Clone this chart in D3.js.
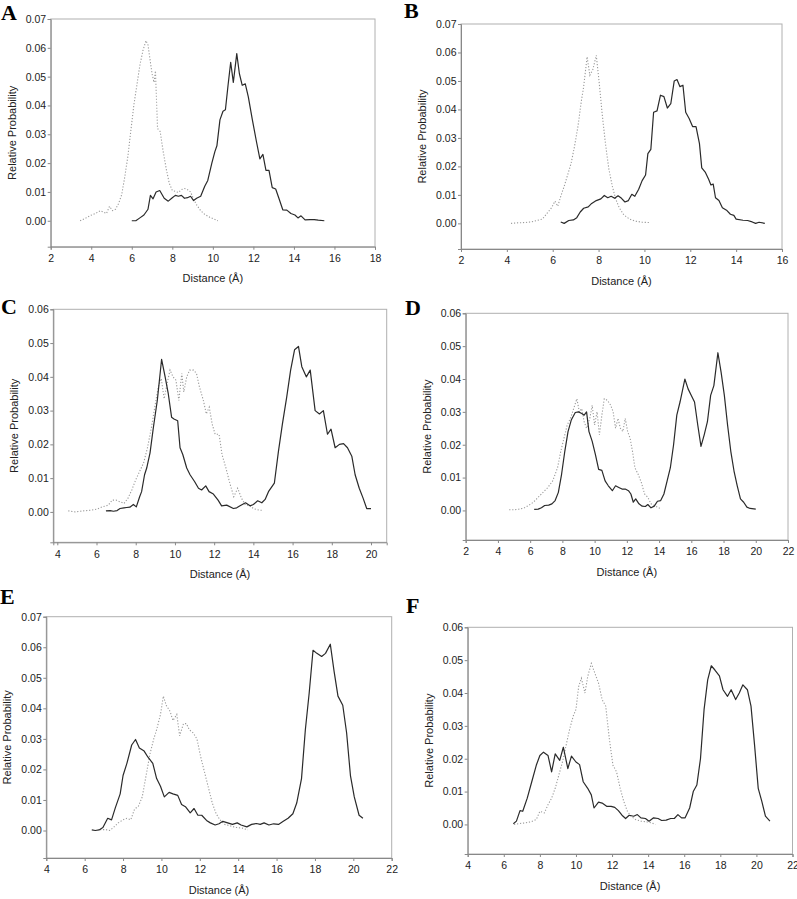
<!DOCTYPE html>
<html>
<head>
<meta charset="utf-8">
<script src="https://cdn.jsdelivr.net/npm/d3@7"></script>
<style>
  html, body { margin: 0; padding: 0; background: #fff; }
  svg { display: block; }
</style>
</head>
<body>
<svg id="chart" width="797" height="899"></svg>
<script>
// ---------------- DATA ----------------
const panelLetters = ["A", "B", "C", "D", "E", "F"];
const xTitle = "Distance (Å)";
const yTitle = "Relative Probability";

const xTicksA = [2, 4, 6, 8, 10, 12, 14, 16, 18];
const xTicksB = [2, 4, 6, 8, 10, 12, 14, 16];
const xTicksC = [4, 6, 8, 10, 12, 14, 16, 18, 20];
const xTicksD = [2, 4, 6, 8, 10, 12, 14, 16, 18, 20, 22];
const xTicksE = [4, 6, 8, 10, 12, 14, 16, 18, 20, 22];
const xTicksF = [4, 6, 8, 10, 12, 14, 16, 18, 20, 22];
const yTicks7 = [0, 0.01, 0.02, 0.03, 0.04, 0.05, 0.06, 0.07];
const yTicks6 = [0, 0.01, 0.02, 0.03, 0.04, 0.05, 0.06];

const A_solid = [[6.0,0],[6.2,0.0],[6.4,0.001],[6.6,0.002],[6.8,0.004],[6.92,0.0088],[7.05,0.0076],[7.2,0.0100],[7.38,0.0105],[7.6,0.0078],[7.8,0.0068],[8.0,0.008],[8.15,0.0088],[8.3,0.0085],[8.45,0.0088],[8.6,0.0078],[8.75,0.008],[8.9,0.0085],[9.05,0.007],[9.2,0.0078],[9.4,0.0085],[9.6,0.012],[9.75,0.014],[9.95,0.020],[10.1,0.024],[10.2,0.026],[10.35,0.035],[10.5,0.038],[10.62,0.0385],[10.75,0.047],[10.88,0.055],[11.01,0.048],[11.18,0.058],[11.31,0.051],[11.45,0.047],[11.6,0.0475],[11.75,0.043],[11.95,0.035],[12.15,0.0275],[12.32,0.0215],[12.47,0.023],[12.62,0.0175],[12.77,0.0175],[12.93,0.0115],[13.1,0.011],[13.25,0.008],[13.45,0.0038],[13.65,0.0037],[13.85,0.0025],[14.05,0.002],[14.2,0.001],[14.35,0.0017],[14.55,0.0003],[14.8,0.0004],[15.0,0.0004],[15.2,0.0002],[15.5,0.0]];
const A_dotted = [[3.45,0.0],[3.7,0.0008],[3.95,0.0018],[4.2,0.0025],[4.45,0.0035],[4.6,0.003],[4.75,0.0025],[4.9,0.005],[5.05,0.0035],[5.2,0.004],[5.35,0.006],[5.5,0.009],[5.65,0.015],[5.8,0.022],[5.95,0.031],[6.1,0.040],[6.25,0.047],[6.4,0.054],[6.55,0.059],[6.7,0.0625],[6.8,0.061],[6.9,0.056],[7.0,0.051],[7.1,0.048],[7.17,0.052],[7.27,0.032],[7.4,0.031],[7.55,0.024],[7.7,0.018],[7.85,0.013],[8.0,0.0105],[8.15,0.0102],[8.3,0.0098],[8.45,0.0108],[8.6,0.0112],[8.75,0.0108],[8.9,0.0100],[9.05,0.0075],[9.2,0.0055],[9.4,0.0035],[9.6,0.0022],[9.85,0.0012],[10.05,0.0006],[10.25,0.0]];

const B_solid = [[6.35,0.0005],[6.5,0.0],[6.7,0.001],[6.9,0.0012],[7.05,0.002],[7.2,0.004],[7.35,0.0053],[7.55,0.0058],[7.7,0.007],[7.9,0.008],[8.1,0.0086],[8.25,0.0098],[8.4,0.009],[8.55,0.0095],[8.7,0.0088],[8.85,0.0097],[9.0,0.0088],[9.15,0.0075],[9.3,0.008],[9.45,0.0102],[9.58,0.0095],[9.75,0.012],[9.9,0.015],[10.05,0.017],[10.15,0.0245],[10.28,0.026],[10.4,0.039],[10.55,0.0395],[10.7,0.045],[10.85,0.0445],[11.0,0.0405],[11.15,0.042],[11.3,0.050],[11.42,0.0505],[11.55,0.048],[11.68,0.0485],[11.8,0.039],[11.95,0.0368],[12.1,0.034],[12.25,0.034],[12.4,0.028],[12.5,0.0195],[12.65,0.018],[12.8,0.0155],[12.9,0.0135],[13.0,0.0138],[13.1,0.009],[13.25,0.008],[13.4,0.0055],[13.6,0.0045],[13.75,0.0032],[13.9,0.0028],[14.0,0.0015],[14.3,0.0011],[14.5,0.001],[14.7,0.0005],[14.85,0.0],[15.0,0.0004],[15.25,0.0]];
const B_dotted = [[4.18,0.0],[4.5,0.0002],[4.8,0.0003],[5.05,0.0005],[5.3,0.001],[5.55,0.0015],[5.75,0.0035],[5.95,0.0055],[6.1,0.0078],[6.22,0.006],[6.35,0.0095],[6.5,0.013],[6.65,0.017],[6.8,0.021],[6.95,0.027],[7.1,0.034],[7.25,0.043],[7.35,0.048],[7.5,0.0585],[7.62,0.052],[7.75,0.054],[7.9,0.059],[8.02,0.05],[8.15,0.039],[8.3,0.028],[8.45,0.019],[8.6,0.013],[8.75,0.0085],[8.9,0.0055],[9.1,0.003],[9.35,0.0015],[9.6,0.0008],[9.9,0.0004],[10.2,0.0003]];

const C_solid = [[6.48,0.0003],[6.7,0.0004],[6.86,0.0002],[7.05,0.0004],[7.2,0.001],[7.4,0.0012],[7.54,0.0013],[7.7,0.0014],[7.88,0.0022],[8.03,0.0015],[8.2,0.0045],[8.3,0.006],[8.45,0.011],[8.56,0.013],[8.73,0.0175],[8.9,0.025],[9.1,0.033],[9.32,0.0452],[9.5,0.040],[9.66,0.035],[9.83,0.028],[9.95,0.0275],[10.14,0.027],[10.26,0.019],[10.4,0.017],[10.6,0.013],[10.77,0.011],[11.0,0.009],[11.2,0.007],[11.36,0.0065],[11.57,0.0077],[11.74,0.006],[11.96,0.0053],[12.2,0.0035],[12.38,0.0018],[12.64,0.002],[12.98,0.001],[13.15,0.0012],[13.32,0.0018],[13.6,0.0027],[13.83,0.0018],[14.0,0.0022],[14.22,0.0033],[14.43,0.0027],[14.6,0.0037],[14.77,0.006],[15.07,0.0085],[15.28,0.018],[15.48,0.026],[15.7,0.034],[15.9,0.042],[16.1,0.048],[16.3,0.049],[16.47,0.043],[16.7,0.040],[16.9,0.042],[17.15,0.030],[17.37,0.029],[17.57,0.030],[17.78,0.023],[17.96,0.0245],[18.17,0.019],[18.39,0.020],[18.6,0.0202],[18.8,0.019],[19.02,0.0165],[19.19,0.011],[19.4,0.007],[19.6,0.004],[19.78,0.001],[20.0,0.001]];
const C_dotted = [[4.56,0.0003],[4.9,0.0],[5.3,0.0003],[5.7,0.0005],[6.0,0.0008],[6.3,0.0015],[6.6,0.002],[6.8,0.0035],[7.0,0.0035],[7.2,0.003],[7.4,0.0025],[7.6,0.004],[7.8,0.0065],[8.0,0.0095],[8.2,0.012],[8.4,0.0145],[8.6,0.019],[8.8,0.025],[9.0,0.032],[9.15,0.037],[9.3,0.0395],[9.45,0.0335],[9.6,0.038],[9.75,0.042],[9.9,0.040],[10.05,0.039],[10.2,0.033],[10.35,0.041],[10.45,0.0355],[10.6,0.040],[10.75,0.042],[10.95,0.042],[11.1,0.041],[11.25,0.037],[11.45,0.033],[11.6,0.029],[11.75,0.031],[11.9,0.026],[12.05,0.023],[12.25,0.023],[12.4,0.017],[12.6,0.013],[12.8,0.0085],[13.0,0.0045],[13.2,0.007],[13.4,0.004],[13.6,0.002],[13.8,0.002],[14.0,0.001],[14.3,0.0005],[14.5,0.0005]];

const D_solid = [[6.25,0.0003],[6.5,0.0004],[6.7,0.0008],[6.9,0.0015],[7.15,0.0016],[7.35,0.002],[7.55,0.003],[7.75,0.0055],[7.95,0.011],[8.15,0.018],[8.35,0.024],[8.55,0.0275],[8.8,0.0298],[9.0,0.030],[9.2,0.0295],[9.35,0.029],[9.5,0.030],[9.65,0.024],[9.85,0.021],[10.05,0.017],[10.25,0.0125],[10.45,0.0122],[10.65,0.009],[10.85,0.0075],[11.1,0.006],[11.3,0.0075],[11.5,0.007],[11.7,0.0065],[11.9,0.0065],[12.1,0.006],[12.25,0.005],[12.4,0.0025],[12.55,0.0035],[12.75,0.002],[12.95,0.0013],[13.15,0.0012],[13.3,0.0018],[13.5,0.0008],[13.7,0.0013],[13.9,0.0028],[14.1,0.003],[14.3,0.005],[14.5,0.009],[14.7,0.013],[14.9,0.020],[15.1,0.029],[15.3,0.033],[15.6,0.040],[15.8,0.037],[16.0,0.035],[16.2,0.033],[16.4,0.026],[16.6,0.0195],[16.8,0.023],[17.0,0.027],[17.2,0.035],[17.4,0.038],[17.65,0.048],[17.85,0.042],[18.05,0.035],[18.25,0.026],[18.45,0.018],[18.65,0.012],[18.85,0.0075],[19.05,0.0035],[19.25,0.0025],[19.45,0.001],[19.65,0.0006],[20.0,0.0004]];
const D_dotted = [[4.7,0.0002],[5.0,0.0002],[5.3,0.0004],[5.6,0.0007],[5.9,0.0015],[6.2,0.0025],[6.5,0.004],[6.8,0.0055],[7.1,0.007],[7.4,0.009],[7.7,0.013],[7.9,0.018],[8.1,0.022],[8.3,0.026],[8.5,0.028],[8.7,0.031],[8.9,0.034],[9.05,0.030],[9.2,0.031],[9.35,0.027],[9.5,0.025],[9.7,0.028],[9.85,0.032],[10.0,0.026],[10.15,0.030],[10.3,0.023],[10.45,0.029],[10.6,0.034],[10.8,0.0335],[11.0,0.032],[11.15,0.030],[11.3,0.025],[11.45,0.028],[11.6,0.025],[11.75,0.024],[11.9,0.028],[12.05,0.024],[12.2,0.022],[12.35,0.018],[12.5,0.013],[12.7,0.011],[12.9,0.0085],[13.1,0.005],[13.3,0.004],[13.5,0.002],[13.7,0.0015],[13.9,0.001],[14.1,0.0005]];

const E_solid = [[6.37,0.0002],[6.55,0.0],[6.75,0.0002],[6.95,0.001],[7.2,0.004],[7.4,0.0035],[7.6,0.0075],[7.85,0.012],[8.0,0.018],[8.2,0.022],[8.45,0.028],[8.65,0.0298],[8.85,0.027],[9.1,0.026],[9.3,0.024],[9.55,0.022],[9.75,0.017],[9.95,0.0145],[10.15,0.011],[10.4,0.0125],[10.6,0.012],[10.85,0.0115],[11.05,0.0085],[11.25,0.0078],[11.5,0.0058],[11.7,0.0072],[11.9,0.005],[12.1,0.005],[12.35,0.0033],[12.55,0.0025],[12.8,0.0018],[13.0,0.0022],[13.2,0.003],[13.45,0.0025],[13.7,0.002],[13.95,0.0025],[14.15,0.0018],[14.45,0.0012],[14.7,0.002],[14.95,0.0023],[15.15,0.002],[15.35,0.0025],[15.6,0.0018],[15.85,0.0022],[16.1,0.002],[16.35,0.003],[16.6,0.004],[16.85,0.0055],[17.05,0.009],[17.3,0.017],[17.5,0.033],[17.7,0.045],[17.9,0.059],[18.1,0.058],[18.35,0.057],[18.55,0.058],[18.8,0.061],[19.0,0.052],[19.2,0.044],[19.45,0.041],[19.65,0.032],[19.85,0.018],[20.05,0.011],[20.3,0.005],[20.5,0.004]];
const E_dotted = [[6.8,0.0003],[7.1,0.0003],[7.3,0.0],[7.5,0.001],[7.75,0.0025],[8.0,0.0035],[8.2,0.004],[8.4,0.0035],[8.6,0.007],[8.8,0.008],[9.0,0.011],[9.2,0.018],[9.4,0.025],[9.6,0.030],[9.75,0.033],[9.95,0.038],[10.1,0.044],[10.25,0.041],[10.45,0.039],[10.6,0.036],[10.8,0.038],[10.95,0.031],[11.15,0.035],[11.3,0.035],[11.45,0.033],[11.65,0.032],[11.85,0.030],[12.05,0.024],[12.25,0.019],[12.45,0.014],[12.65,0.009],[12.85,0.0055],[13.05,0.0035],[13.3,0.002],[13.6,0.0015],[13.9,0.001],[14.2,0.0008],[14.5,0.0002]];

const F_solid = [[6.53,0.0002],[6.7,0.001],[6.9,0.0042],[7.05,0.004],[7.3,0.008],[7.55,0.013],[7.8,0.018],[8.0,0.021],[8.2,0.022],[8.45,0.021],[8.65,0.016],[8.85,0.0215],[9.1,0.0195],[9.3,0.0235],[9.55,0.017],[9.75,0.0208],[10.0,0.019],[10.2,0.0182],[10.4,0.013],[10.65,0.011],[10.85,0.009],[11.0,0.005],[11.25,0.0068],[11.45,0.0065],[11.7,0.0055],[11.95,0.0055],[12.15,0.0052],[12.35,0.0042],[12.55,0.0028],[12.75,0.0018],[12.95,0.0028],[13.2,0.0025],[13.4,0.003],[13.6,0.002],[13.85,0.0018],[14.05,0.001],[14.3,0.002],[14.55,0.0018],[14.75,0.0012],[15.0,0.0013],[15.25,0.0018],[15.45,0.0018],[15.65,0.003],[15.85,0.002],[16.05,0.002],[16.3,0.005],[16.5,0.010],[16.7,0.012],[16.9,0.02],[17.1,0.035],[17.3,0.044],[17.5,0.0483],[17.7,0.047],[17.95,0.0452],[18.15,0.041],[18.4,0.039],[18.6,0.041],[18.85,0.038],[19.05,0.040],[19.25,0.0425],[19.5,0.041],[19.7,0.036],[19.9,0.024],[20.1,0.011],[20.3,0.007],[20.5,0.0025],[20.75,0.001]];
const F_dotted = [[6.57,0.0],[6.9,0.0003],[7.2,0.0005],[7.5,0.0008],[7.8,0.0015],[8.0,0.004],[8.25,0.0035],[8.45,0.006],[8.65,0.008],[8.85,0.011],[9.05,0.015],[9.25,0.019],[9.45,0.024],[9.65,0.029],[9.85,0.033],[10.0,0.035],[10.15,0.042],[10.3,0.0445],[10.5,0.040],[10.65,0.045],[10.85,0.049],[11.05,0.046],[11.25,0.043],[11.45,0.038],[11.65,0.036],[11.85,0.026],[12.05,0.018],[12.25,0.016],[12.45,0.011],[12.65,0.007],[12.85,0.004],[13.05,0.0025],[13.3,0.0015],[13.6,0.001],[13.9,0.0008],[14.2,0.0005],[14.4,0.0]];

// ---------------- LAYOUT ----------------
const panels = [
  { letter: panelLetters[0], lx: 1,   ly: 20,  left: 50.7,  right: 375,   top: 19,    bottom: 246.7, xDom: [2, 18],    xTicks: xTicksA, yMax: 0.07, yTicks: yTicks7, solid: A_solid, dotted: A_dotted },
  { letter: panelLetters[1], lx: 404, ly: 18,  left: 461,   right: 782,   top: 24,    bottom: 249,   xDom: [2, 16],    xTicks: xTicksB, yMax: 0.07, yTicks: yTicks7, solid: B_solid, dotted: B_dotted },
  { letter: panelLetters[2], lx: 1,   ly: 314, left: 53.3,  right: 386.7, top: 309.3, bottom: 542.3, xDom: [3.796, 20.8], xTicks: xTicksC, yMax: 0.06, yTicks: yTicks6, solid: C_solid, dotted: C_dotted },
  { letter: panelLetters[3], lx: 405, ly: 315, left: 465.7, right: 788,   top: 313.3, bottom: 540,   xDom: [2, 22],    xTicks: xTicksD, yMax: 0.06, yTicks: yTicks6, solid: D_solid, dotted: D_dotted },
  { letter: panelLetters[4], lx: 0,   ly: 604, left: 46.3,  right: 391.7, top: 616.7, bottom: 858,   xDom: [4, 22],    xTicks: xTicksE, yMax: 0.07, yTicks: yTicks7, solid: E_solid, dotted: E_dotted },
  { letter: panelLetters[5], lx: 406, ly: 613, left: 467.7, right: 792.5, top: 627.3, bottom: 854,   xDom: [4, 22],    xTicks: xTicksF, yMax: 0.06, yTicks: yTicks6, solid: F_solid, dotted: F_dotted }
];
const yMin = -0.009;

const svg = d3.select("#chart");
const FONT = "'Liberation Sans', Arial, sans-serif";

panels.forEach(p => {
  const x = d3.scaleLinear().domain(p.xDom).range([p.left, p.right]);
  const y = d3.scaleLinear().domain([yMin, p.yMax]).range([p.bottom, p.top]);
  const g = svg.append("g");

  // frame (top/right light)
  g.append("rect")
    .attr("x", p.left).attr("y", p.top)
    .attr("width", p.right - p.left).attr("height", p.bottom - p.top)
    .attr("fill", "none").attr("stroke", "#b0b0b0").attr("stroke-width", 1);

  // x axis
  const xa = g.append("g").attr("transform", `translate(0,${p.bottom})`)
    .call(d3.axisBottom(x).tickValues(p.xTicks).tickFormat(d3.format("d")).tickSize(3).tickPadding(5));
  // y axis
  const ya = g.append("g").attr("transform", `translate(${p.left},0)`)
    .call(d3.axisLeft(y).tickValues(p.yTicks).tickFormat(d3.format(".2f")).tickSize(3).tickPadding(1.5));

  [xa, ya].forEach(a => {
    a.select(".domain").attr("stroke", "#888").attr("stroke-width", 1);
    a.selectAll(".tick line").attr("stroke", "#888");
    a.selectAll(".tick text").attr("fill", "#222").style("font-family", FONT).style("font-size", "10.5px");
  });

  const line = d3.line().x(d => x(d[0])).y(d => y(d[1]));

  g.append("path").datum(p.dotted)
    .attr("d", line).attr("fill", "none")
    .attr("stroke", "#9a9a9a").attr("stroke-width", 1.1)
    .attr("stroke-dasharray", "1.2,1.8");

  g.append("path").datum(p.solid)
    .attr("d", line).attr("fill", "none")
    .attr("stroke", "#2a2a2a").attr("stroke-width", 1.2)
    .attr("stroke-linejoin", "round");

  // titles
  g.append("text")
    .attr("x", (p.left + p.right) / 2).attr("y", p.bottom + 35.5)
    .attr("text-anchor", "middle").attr("fill", "#222")
    .style("font-family", FONT).style("font-size", "11px")
    .text(xTitle);
  g.append("text")
    .attr("transform", `translate(${p.left - 35},${(p.top + p.bottom) / 2}) rotate(-90)`)
    .attr("text-anchor", "middle").attr("fill", "#222")
    .style("font-family", FONT).style("font-size", "11px")
    .text(yTitle);

  // panel letter
  g.append("text")
    .attr("x", p.lx).attr("y", p.ly)
    .attr("fill", "#000")
    .style("font-family", "'Liberation Serif', 'Times New Roman', serif")
    .style("font-weight", "bold").style("font-size", "22px")
    .text(p.letter);
});
</script>
</body>
</html>
